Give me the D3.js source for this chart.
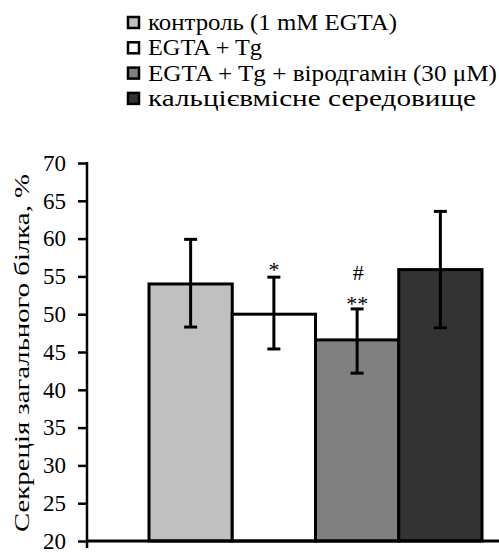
<!DOCTYPE html>
<html>
<head>
<meta charset="utf-8">
<script src="https://cdn.jsdelivr.net/npm/d3@7"></script>
<style>
  body { margin: 0; background: #fff; }
</style>
</head>
<body>
<div id="chart"></div>
<script>
// data
var categories = ["контроль (1 mM EGTA)", "EGTA + Tg", "EGTA + Tg + віродгамін (30  μM)", "кальцієвмісне середовище"];
var values = [54.0, 50.0, 46.6, 55.9];
var errUp = [59.9, 54.9, 50.7, 63.6];
var errDown = [48.3, 45.4, 42.2, 48.2];
var marks = ["", "*", "**", ""];
var marks2 = ["", "", "#", ""];
var yTicks = [20, 25, 30, 35, 40, 45, 50, 55, 60, 65, 70];
var colors = ["#c0c0c0", "#ffffff", "#808080", "#333333"];

var w = 499, h = 553;
var serif = "'Liberation Serif'";
// the original lettering is wider than Liberation Serif, stretch to fit
var legendWidths = [249, 114, 349, 328];

var svg = d3.select("#chart").append("svg")
	.attr("width", w)
	.attr("height", h);

var y = d3.scaleLinear().domain([20, 70]).range([541, 163]);
var x = d3.scaleBand().domain(categories).range([149, 482]).padding(0);
var axisX = 87;

// y axis
var yAxis = d3.axisLeft(y).tickValues(yTicks).tickSize(9).tickSizeOuter(0).tickPadding(12);
var gy = svg.append("g")
	.attr("transform", "translate(" + axisX + ",0)")
	.call(yAxis);
gy.attr("font-family", null);
gy.select(".domain").remove();
gy.selectAll(".tick line").attr("stroke", "#000").attr("stroke-width", 2.5);
gy.selectAll(".tick text")
	.style("font-family", serif)
	.style("font-size", "23px");
svg.append("line")
	.attr("x1", axisX).attr("x2", axisX)
	.attr("y1", y(70) - 1).attr("y2", y(20) + 7)
	.attr("stroke", "#000").attr("stroke-width", 2.5);

// y title
svg.append("text")
	.attr("transform", "translate(29," + ((y(20) + y(70)) / 2 + 1) + ") rotate(-90)")
	.attr("text-anchor", "middle")
	.attr("textLength", 358)
	.attr("lengthAdjust", "spacingAndGlyphs")
	.style("font-family", serif)
	.style("font-size", "22px")
	.text("Секреція загального білка, %");

// bars
svg.append("g").selectAll("rect")
	.data(categories)
	.enter()
	.append("rect")
	.attr("x", function(d) { return x(d); })
	.attr("y", function(d, i) { return y(values[i]); })
	.attr("width", x.bandwidth())
	.attr("height", function(d, i) { return y(20) - y(values[i]); })
	.attr("fill", function(d, i) { return colors[i]; })
	.attr("stroke", "#000")
	.attr("stroke-width", 3);

// x axis line
svg.append("line")
	.attr("x1", axisX).attr("x2", w)
	.attr("y1", y(20)).attr("y2", y(20))
	.attr("stroke", "#000").attr("stroke-width", 3);

// error bars
var err = svg.append("g").selectAll("g")
	.data(categories)
	.enter()
	.append("g")
	.attr("transform", function(d) { return "translate(" + (x(d) + x.bandwidth() / 2) + ",0)"; });
err.append("line")
	.attr("y1", function(d, i) { return y(errUp[i]); })
	.attr("y2", function(d, i) { return y(errDown[i]); })
	.attr("stroke", "#000").attr("stroke-width", 3);
err.append("line")
	.attr("x1", -6.5).attr("x2", 6.5)
	.attr("y1", function(d, i) { return y(errUp[i]); })
	.attr("y2", function(d, i) { return y(errUp[i]); })
	.attr("stroke", "#000").attr("stroke-width", 3);
err.append("line")
	.attr("x1", -6.5).attr("x2", 6.5)
	.attr("y1", function(d, i) { return y(errDown[i]); })
	.attr("y2", function(d, i) { return y(errDown[i]); })
	.attr("stroke", "#000").attr("stroke-width", 3);

// significance marks
err.append("text")
	.attr("text-anchor", "middle")
	.attr("x", 0)
	.attr("y", function(d, i) { return y(errUp[i]) + (i == 2 ? 2 : 0); })
	.style("font-family", serif)
	.style("font-size", "22px")
	.text(function(d, i) { return marks[i]; });
err.append("text")
	.attr("text-anchor", "middle")
	.attr("x", 1)
	.attr("y", function(d, i) { return y(errUp[i]) - 29; })
	.style("font-family", serif)
	.style("font-size", "22px")
	.text(function(d, i) { return marks2[i]; });

// legend
var legend = svg.append("g").selectAll("g")
	.data(categories)
	.enter()
	.append("g")
	.attr("transform", function(d, i) { return "translate(127," + (22.5 + i * 25.3) + ")"; });
legend.append("rect")
	.attr("x", 1).attr("y", -5.5)
	.attr("width", 11).attr("height", 11)
	.attr("fill", function(d, i) { return colors[i]; })
	.attr("stroke", "#000")
	.attr("stroke-width", 2.5);
legend.append("text")
	.attr("x", 21)
	.attr("dy", "0.33em")
	.attr("textLength", function(d, i) { return legendWidths[i]; })
	.attr("lengthAdjust", "spacingAndGlyphs")
	.style("font-family", serif)
	.style("font-size", "22.5px")
	.text(function(d) { return d; });
</script>
</body>
</html>
